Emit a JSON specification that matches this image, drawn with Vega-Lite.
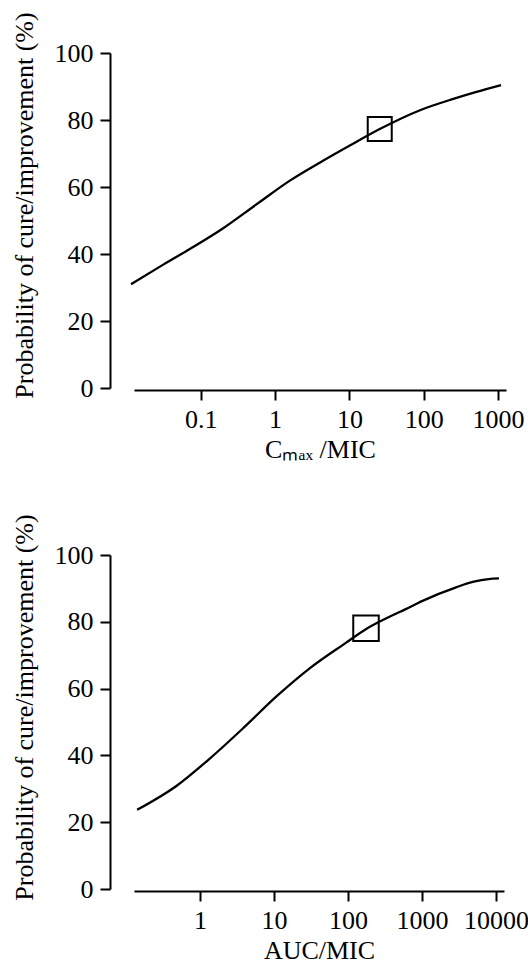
{
  "$schema": "https://vega.github.io/schema/vega-lite/v6.json",
  "padding": {"left": 10, "top": 11, "right": 5, "bottom": 0},
  "spacing": 51,
  "config": {
    "font": "Liberation Serif",
    "view": {"stroke": null},
    "axis": {
      "grid": false,
      "domainColor": "black",
      "domainWidth": 2,
      "tickColor": "black",
      "tickWidth": 2,
      "tickSize": 10,
      "labelFont": "Liberation Serif",
      "labelFontSize": 26,
      "labelColor": "black",
      "titleFont": "Liberation Serif",
      "titleFontSize": 26,
      "titleFontWeight": "normal",
      "titleColor": "black"
    }
  },
  "datasets": {
    "cmax": [
      {"ratio": 0.0115, "p": 31.0},
      {"ratio": 0.0316, "p": 36.9},
      {"ratio": 0.0711, "p": 41.5},
      {"ratio": 0.2, "p": 47.7},
      {"ratio": 0.56, "p": 54.8},
      {"ratio": 1.58, "p": 61.9},
      {"ratio": 4.47, "p": 67.9},
      {"ratio": 10, "p": 72.3},
      {"ratio": 25.6, "p": 77.3},
      {"ratio": 91, "p": 83.0},
      {"ratio": 251, "p": 86.3},
      {"ratio": 500, "p": 88.3},
      {"ratio": 1100, "p": 90.4}
    ],
    "cmaxPoint": [{"ratio": 25.6, "p": 77.3}],
    "auc": [
      {"ratio": 0.141, "p": 23.7},
      {"ratio": 0.489, "p": 31.0},
      {"ratio": 1.377, "p": 39.2},
      {"ratio": 3.89, "p": 48.3},
      {"ratio": 10.96, "p": 57.8},
      {"ratio": 30, "p": 66.0},
      {"ratio": 93.3, "p": 73.7},
      {"ratio": 174, "p": 77.8},
      {"ratio": 363, "p": 81.5},
      {"ratio": 603, "p": 83.8},
      {"ratio": 1000, "p": 86.2},
      {"ratio": 2951, "p": 90.4},
      {"ratio": 5012, "p": 92.0},
      {"ratio": 7943, "p": 92.8},
      {"ratio": 10965, "p": 93.0}
    ],
    "aucPoint": [{"ratio": 175, "p": 78.1}]
  },
  "vconcat": [
    {
      "width": 372,
      "height": 335,
      "encoding": {
        "x": {
          "field": "ratio",
          "type": "quantitative",
          "scale": {"type": "log", "domain": [0.0126, 1282], "nice": false},
          "axis": {
            "values": [0.1, 1, 10, 100, 1000],
            "format": "~g",
            "title": "Cₘₐₓ /MIC",
            "offset": 2,
            "labelPadding": 6,
            "titlePadding": 4,
            "labelFlush": false
          }
        },
        "y": {
          "field": "p",
          "type": "quantitative",
          "scale": {"domain": [0, 100], "nice": false},
          "axis": {
            "values": [0, 20, 40, 60, 80, 100],
            "title": "Probability of cure/improvement (%)",
            "offset": 24,
            "labelPadding": 7,
            "titlePadding": 17,
            "titleY": 152
          }
        }
      },
      "layer": [
        {
          "data": {"name": "cmax"},
          "mark": {"type": "line", "color": "black", "strokeWidth": 2.3, "interpolate": "monotone"}
        },
        {
          "data": {"name": "cmaxPoint"},
          "mark": {"type": "point", "shape": "square", "size": 576, "filled": false, "color": "black", "strokeWidth": 2, "opacity": 1}
        }
      ]
    },
    {
      "width": 370,
      "height": 334,
      "encoding": {
        "x": {
          "field": "ratio",
          "type": "quantitative",
          "scale": {"type": "log", "domain": [0.128, 12830], "nice": false},
          "axis": {
            "values": [1, 10, 100, 1000, 10000],
            "format": "~g",
            "title": "AUC/MIC",
            "offset": 2,
            "labelPadding": 6,
            "titlePadding": 4,
            "labelFlush": false
          }
        },
        "y": {
          "field": "p",
          "type": "quantitative",
          "scale": {"domain": [0, 100], "nice": false},
          "axis": {
            "values": [0, 20, 40, 60, 80, 100],
            "title": "Probability of cure/improvement (%)",
            "offset": 24,
            "labelPadding": 7,
            "titlePadding": 17,
            "titleY": 152
          }
        }
      },
      "layer": [
        {
          "data": {"name": "auc"},
          "mark": {"type": "line", "color": "black", "strokeWidth": 2.3, "interpolate": "monotone"}
        },
        {
          "data": {"name": "aucPoint"},
          "mark": {"type": "point", "shape": "square", "size": 650, "filled": false, "color": "black", "strokeWidth": 2, "opacity": 1}
        }
      ]
    }
  ]
}
